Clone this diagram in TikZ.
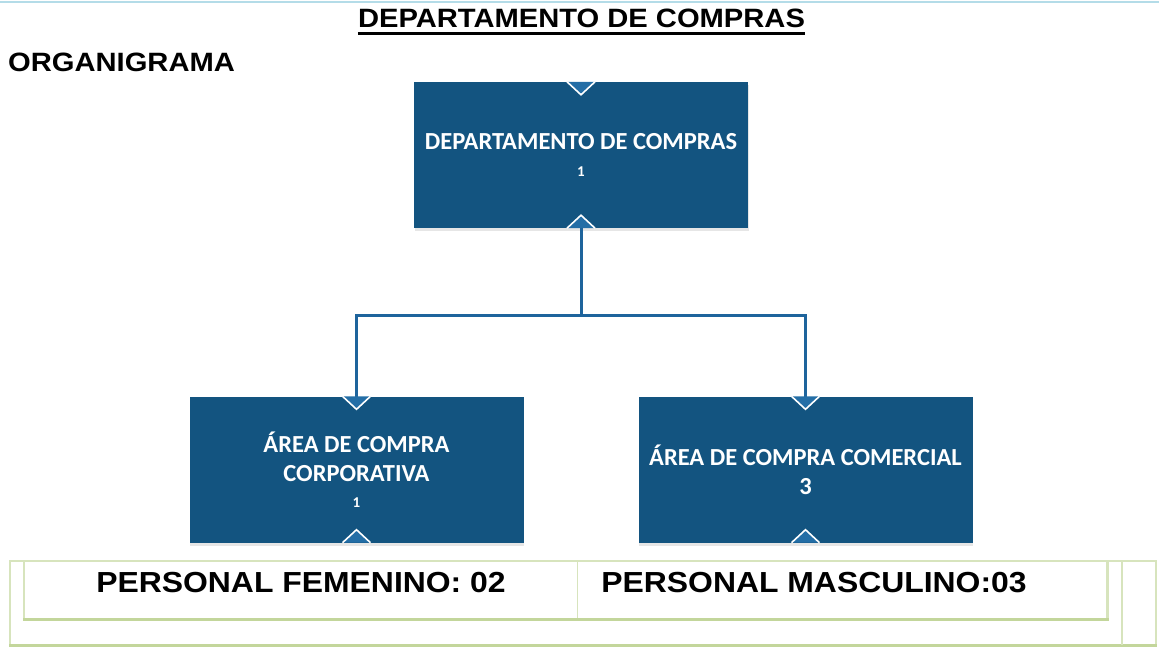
\documentclass[tikz,border=0pt]{standalone}
\usepackage{fontspec}
\setmainfont{Liberation Sans}
\newfontfamily\headfont[FakeStretch=1.1]{Liberation Sans}
\newfontfamily\boxfont{Carlito}
\usetikzlibrary{shadows}

\definecolor{boxblue}{RGB}{19,84,128}
\definecolor{tipblue}{RGB}{36,110,166}
\definecolor{linkblue}{RGB}{30,100,156}
\definecolor{rulegreen}{RGB}{195,214,155}
\definecolor{palegreen}{RGB}{215,228,189}
\definecolor{topline}{RGB}{180,220,232}

\tikzset{
  orgbox/.style={fill=boxblue, minimum width=334pt, minimum height=146pt, inner sep=0pt,
    text=white, align=center, font=\boxfont\bfseries\fontsize{24.5}{29}\selectfont,
    drop shadow={opacity=0.2, shadow xshift=0.5pt, shadow yshift=-3pt, fill=black!50}},
  heading/.style={inner sep=0pt, font=\headfont\bfseries\fontsize{26.5}{30}\selectfont},
  cellText/.style={inner sep=0pt, font=\headfont\bfseries\fontsize{29}{32}\selectfont},
  link/.style={draw=linkblue, line width=3pt},
  notch/.style={draw=white, line width=1.6pt, fill=tipblue},
}

\begin{document}
\begin{tikzpicture}[x=1pt,y=-1pt]
\useasboundingbox (0,0) rectangle (1159,647);

\draw[topline, line width=2pt] (0,2) -- (1159,2);

\node[heading, anchor=base] (title) at (581.5,28) {DEPARTAMENTO DE COMPRAS};
\draw[line width=3pt] ([yshift=-6pt]title.base west) -- ([yshift=-6pt]title.base east);
\node[heading, anchor=base west] (orga) at (8,72) {ORGANIGRAMA};

% boxes
\node[orgbox] (dept) at (581,155) {DEPARTAMENTO DE COMPRAS\\[-2pt]{\fontsize{15}{15}\selectfont 1}};
\node[orgbox] (corp) at (356.5,469.5) {\'AREA DE COMPRA\\CORPORATIVA\\[-3pt]{\fontsize{15}{15}\selectfont 1}};
\node[orgbox] (comer) at (805.5,469.5) {\'AREA DE COMPRA COMERCIAL\\3};

% connectors
\coordinate (bus) at (581,315);
\draw[link] (dept.south) -- (bus);
\draw[link] (bus) -| ([yshift=-12pt]corp.north);
\draw[link] (bus) -| ([yshift=-12pt]comer.north);

\foreach \n in {dept,corp,comer}{
  \filldraw[notch] ([xshift=-14pt]\n.north) -- ([yshift=-13pt]\n.north) -- ([xshift=14pt]\n.north);
  \filldraw[notch] ([xshift=-14pt]\n.south) -- ([yshift=13pt]\n.south) -- ([xshift=14pt]\n.south);
}

% table
\draw[palegreen, line width=2pt] (10,645) -- (10,560.5) -- (1156,560.5) -- (1156,645);
\draw[rulegreen, line width=3pt] (9,645) -- (1157,645);
\draw[palegreen, line width=2pt] (24,561) -- (24,619);
\draw[palegreen, line width=1pt] (577,561) -- (577,619);
\draw[palegreen, line width=3pt] (1107,561) -- (1107,619);
\draw[rulegreen, line width=3pt] (23,619.5) -- (1108.5,619.5);
\draw[palegreen, line width=2pt] (1122,561) -- (1122,645);

\node[cellText, anchor=base] (fem) at (301,592) {PERSONAL FEMENINO: 02};
\node[cellText, anchor=base] (masc) at (814,592) {PERSONAL MASCULINO:03};
\end{tikzpicture}
\end{document}
